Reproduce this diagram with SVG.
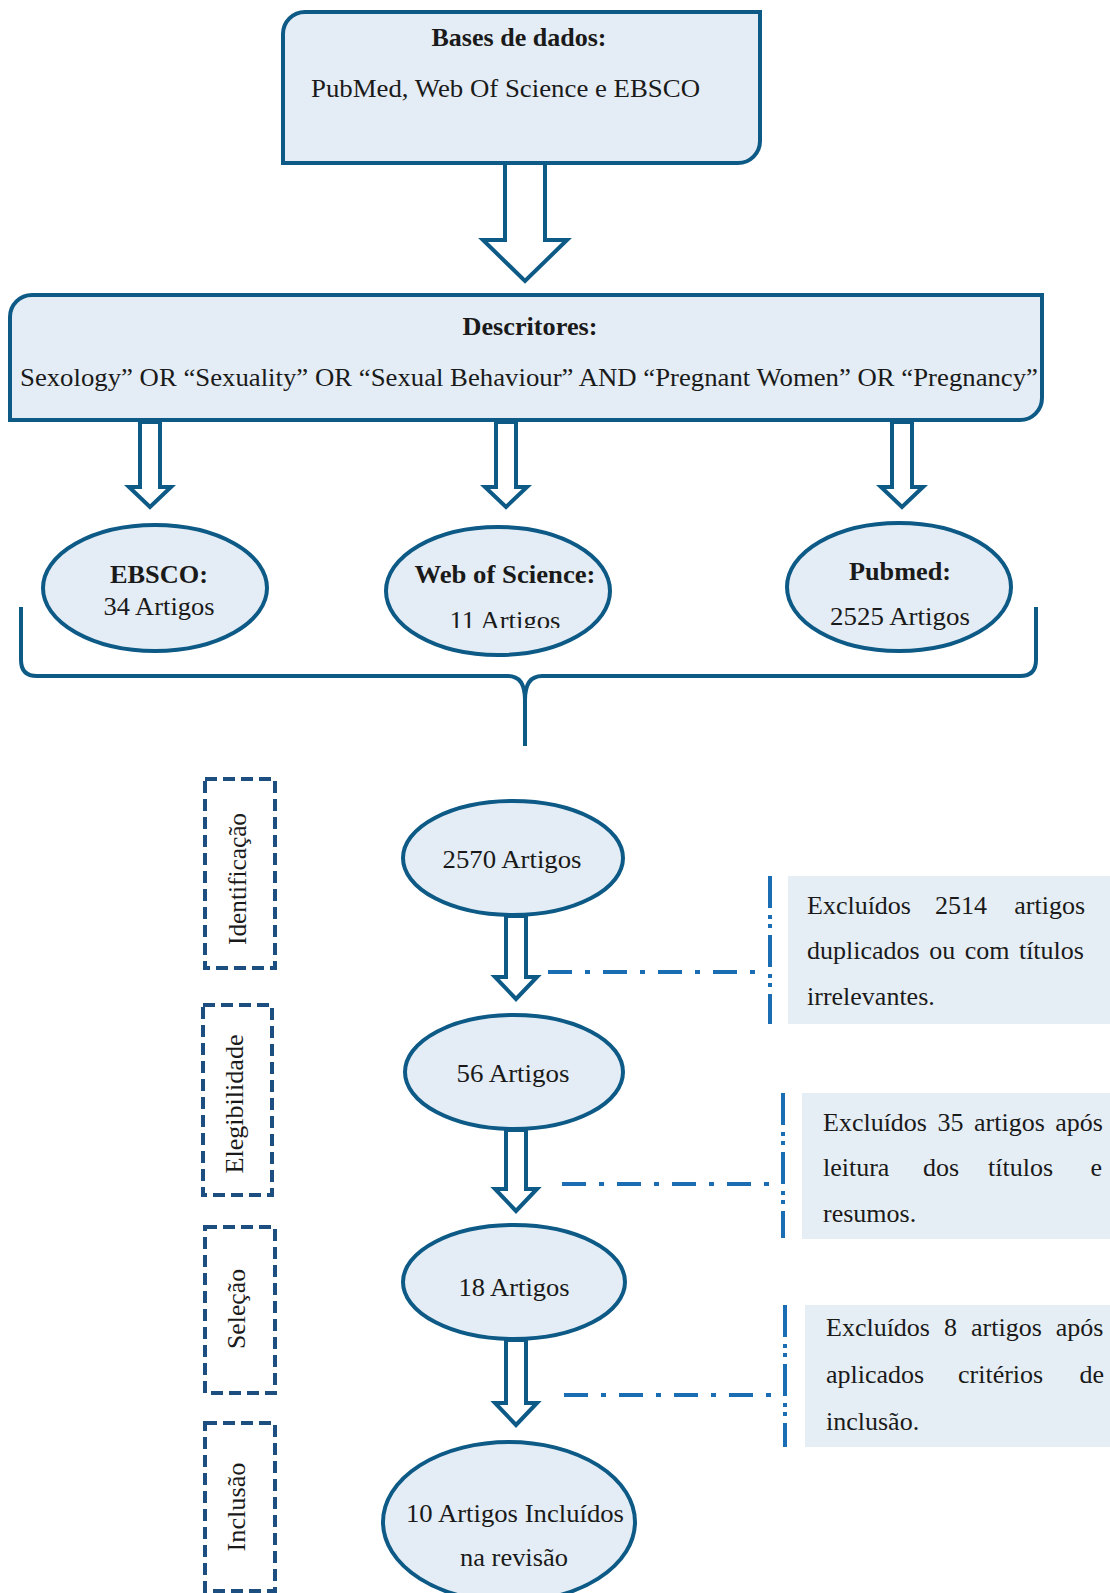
<svg xmlns="http://www.w3.org/2000/svg" width="1110" height="1593" viewBox="0 0 1110 1593">
<defs>
<style>
.box{fill:#e4edf5;stroke:#0d5a86;stroke-width:4}
.ell{fill:#e4edf5;stroke:#0d5a86;stroke-width:4}
.arr{fill:#ffffff;stroke:#0d5a86;stroke-width:4;stroke-linejoin:miter}
.brace{fill:none;stroke:#0d5a86;stroke-width:4}
.phase{fill:none;stroke:#1c4f7f;stroke-width:4;stroke-dasharray:12 6}
.hdd{fill:none;stroke:#1a6db3;stroke-width:4;stroke-dasharray:24 13 5 13}
.vdd{fill:none;stroke:#1a6db3;stroke-width:4;stroke-dasharray:32 7 4 5 4 7}
.xbox{fill:#e6eef5;stroke:none}
.t{font-family:"Liberation Serif","Times New Roman",serif;fill:#1a1a1a;font-size:26px}
.b{font-weight:bold}
.c{text-anchor:middle}
.e{text-anchor:end}
</style>
<clipPath id="clipWos"><rect x="380" y="540" width="240" height="88"/></clipPath>
</defs>

<g id="connectors">
<path class="arr" d="M505,163 V240 H483 L525,281 L567,240 H545 V163 Z"/>
<path class="arr" d="M140,422 V487 H129 L150,507 L171,487 H160 V422 Z"/>
<path class="arr" d="M496,422 V487 H485 L506,507 L527,487 H516 V422 Z"/>
<path class="arr" d="M892,422 V487 H881 L902,507 L923,487 H912 V422 Z"/>
<path class="brace" d="M21,607 V660 Q21,676 37,676 H508 Q525,676 525,700 V746 M525,700 Q525,676 542,676 H1020 Q1036,676 1036,660 V607"/>
<path class="arr" d="M506,916 V977 H495 L516,999 L537,977 H526 V916 Z"/>
<path class="arr" d="M506,1130 V1189 H495 L516,1211 L537,1189 H526 V1130 Z"/>
<path class="arr" d="M506,1340 V1403 H495 L516,1425 L537,1403 H526 V1340 Z"/>
<path class="hdd" d="M548,972 H768"/>
<path class="vdd" d="M770,876 V1024"/>
<path class="hdd" d="M562,1184 H781"/>
<path class="vdd" d="M783,1093 V1238"/>
<path class="hdd" d="M564,1395 H783"/>
<path class="vdd" d="M785,1305 V1447"/>
</g>

<g id="node-bases">
<path class="box" d="M283,34 A22,22 0 0 1 305,12 H760 V141 A22,22 0 0 1 738,163 H283 Z"/>
<text class="t b c" x="519" y="46" textLength="175" lengthAdjust="spacingAndGlyphs">Bases de dados:</text>
<text class="t" x="311" y="97" textLength="389" lengthAdjust="spacingAndGlyphs">PubMed, Web Of Science e EBSCO</text>
</g>

<g id="node-descritores">
<path class="box" d="M10,317 A22,22 0 0 1 32,295 H1042 V398 A22,22 0 0 1 1020,420 H10 Z"/>
<text class="t b c" x="530" y="335" textLength="135" lengthAdjust="spacingAndGlyphs">Descritores:</text>
<text class="t" x="20" y="386" textLength="1018" lengthAdjust="spacingAndGlyphs">Sexology” OR “Sexuality” OR “Sexual Behaviour” AND “Pregnant Women” OR “Pregnancy”</text>
</g>

<g id="node-ebsco">
<ellipse class="ell" cx="155" cy="588" rx="112" ry="63"/>
<text class="t b c" x="159" y="583" textLength="98" lengthAdjust="spacingAndGlyphs">EBSCO:</text>
<text class="t c" x="159" y="615" textLength="111" lengthAdjust="spacingAndGlyphs">34 Artigos</text>
</g>

<g id="node-wos">
<ellipse class="ell" cx="498" cy="591" rx="112" ry="64"/>
<text class="t b c" x="505" y="583" textLength="181" lengthAdjust="spacingAndGlyphs">Web of Science:</text>
<g clip-path="url(#clipWos)"><text class="t c" x="505" y="629" textLength="111" lengthAdjust="spacingAndGlyphs">11 Artigos</text></g>
</g>

<g id="node-pubmed">
<ellipse class="ell" cx="899" cy="587" rx="112" ry="64"/>
<text class="t b c" x="900" y="580" textLength="102" lengthAdjust="spacingAndGlyphs">Pubmed:</text>
<text class="t c" x="900" y="625" textLength="140" lengthAdjust="spacingAndGlyphs">2525 Artigos</text>
</g>

<g id="phase-identificacao">
<rect class="phase" x="205" y="779" width="70" height="189"/>
<text class="t c" transform="translate(246,879) rotate(-90)" font-size="25" textLength="132" lengthAdjust="spacingAndGlyphs">Identificação</text>
</g>
<g id="phase-elegibilidade">
<rect class="phase" x="203" y="1005" width="69" height="190"/>
<text class="t c" transform="translate(243,1104) rotate(-90)" font-size="25" textLength="139" lengthAdjust="spacingAndGlyphs">Elegibilidade</text>
</g>
<g id="phase-selecao">
<rect class="phase" x="205" y="1227" width="70" height="166"/>
<text class="t c" transform="translate(245,1309) rotate(-90)" font-size="25" textLength="80" lengthAdjust="spacingAndGlyphs">Seleção</text>
</g>
<g id="phase-inclusao">
<rect class="phase" x="205" y="1423" width="70" height="168"/>
<text class="t c" transform="translate(245,1507) rotate(-90)" font-size="25" textLength="89" lengthAdjust="spacingAndGlyphs">Inclusão</text>
</g>

<g id="node-2570">
<ellipse class="ell" cx="513" cy="858" rx="110" ry="57"/>
<text class="t c" x="512" y="868" textLength="139" lengthAdjust="spacingAndGlyphs">2570 Artigos</text>
</g>
<g id="node-56">
<ellipse class="ell" cx="514" cy="1072" rx="109" ry="57"/>
<text class="t c" x="513" y="1082" textLength="113" lengthAdjust="spacingAndGlyphs">56 Artigos</text>
</g>
<g id="node-18">
<ellipse class="ell" cx="514" cy="1282" rx="111" ry="57"/>
<text class="t c" x="514" y="1296" textLength="111" lengthAdjust="spacingAndGlyphs">18 Artigos</text>
</g>
<g id="node-10">
<ellipse class="ell" cx="509" cy="1522" rx="126" ry="80"/>
<text class="t c" x="515" y="1522" textLength="218" lengthAdjust="spacingAndGlyphs">10 Artigos Incluídos</text>
<text class="t c" x="514" y="1566" textLength="108" lengthAdjust="spacingAndGlyphs">na revisão</text>
</g>

<g id="excl-1">
<rect class="xbox" x="788" y="876" width="322" height="148"/>
<text class="t" x="807" y="914">Excluídos</text>
<text class="t" x="935" y="914">2514</text>
<text class="t e" x="1085" y="914">artigos</text>
<text class="t" x="807" y="959" word-spacing="3">duplicados ou com títulos</text>
<text class="t" x="807" y="1005">irrelevantes.</text>
</g>
<g id="excl-2">
<rect class="xbox" x="802" y="1093" width="308" height="146"/>
<text class="t" x="823" y="1131" word-spacing="4">Excluídos 35 artigos após</text>
<text class="t" x="823" y="1176">leitura</text>
<text class="t" x="923" y="1176">dos</text>
<text class="t" x="988" y="1176">títulos</text>
<text class="t e" x="1102" y="1176">e</text>
<text class="t" x="823" y="1222">resumos.</text>
</g>
<g id="excl-3">
<rect class="xbox" x="805" y="1305" width="305" height="142"/>
<text class="t" x="826" y="1336" word-spacing="7.5">Excluídos 8 artigos após</text>
<text class="t" x="826" y="1383">aplicados</text>
<text class="t" x="958" y="1383">critérios</text>
<text class="t e" x="1104" y="1383">de</text>
<text class="t" x="826" y="1430">inclusão.</text>
</g>
</svg>
